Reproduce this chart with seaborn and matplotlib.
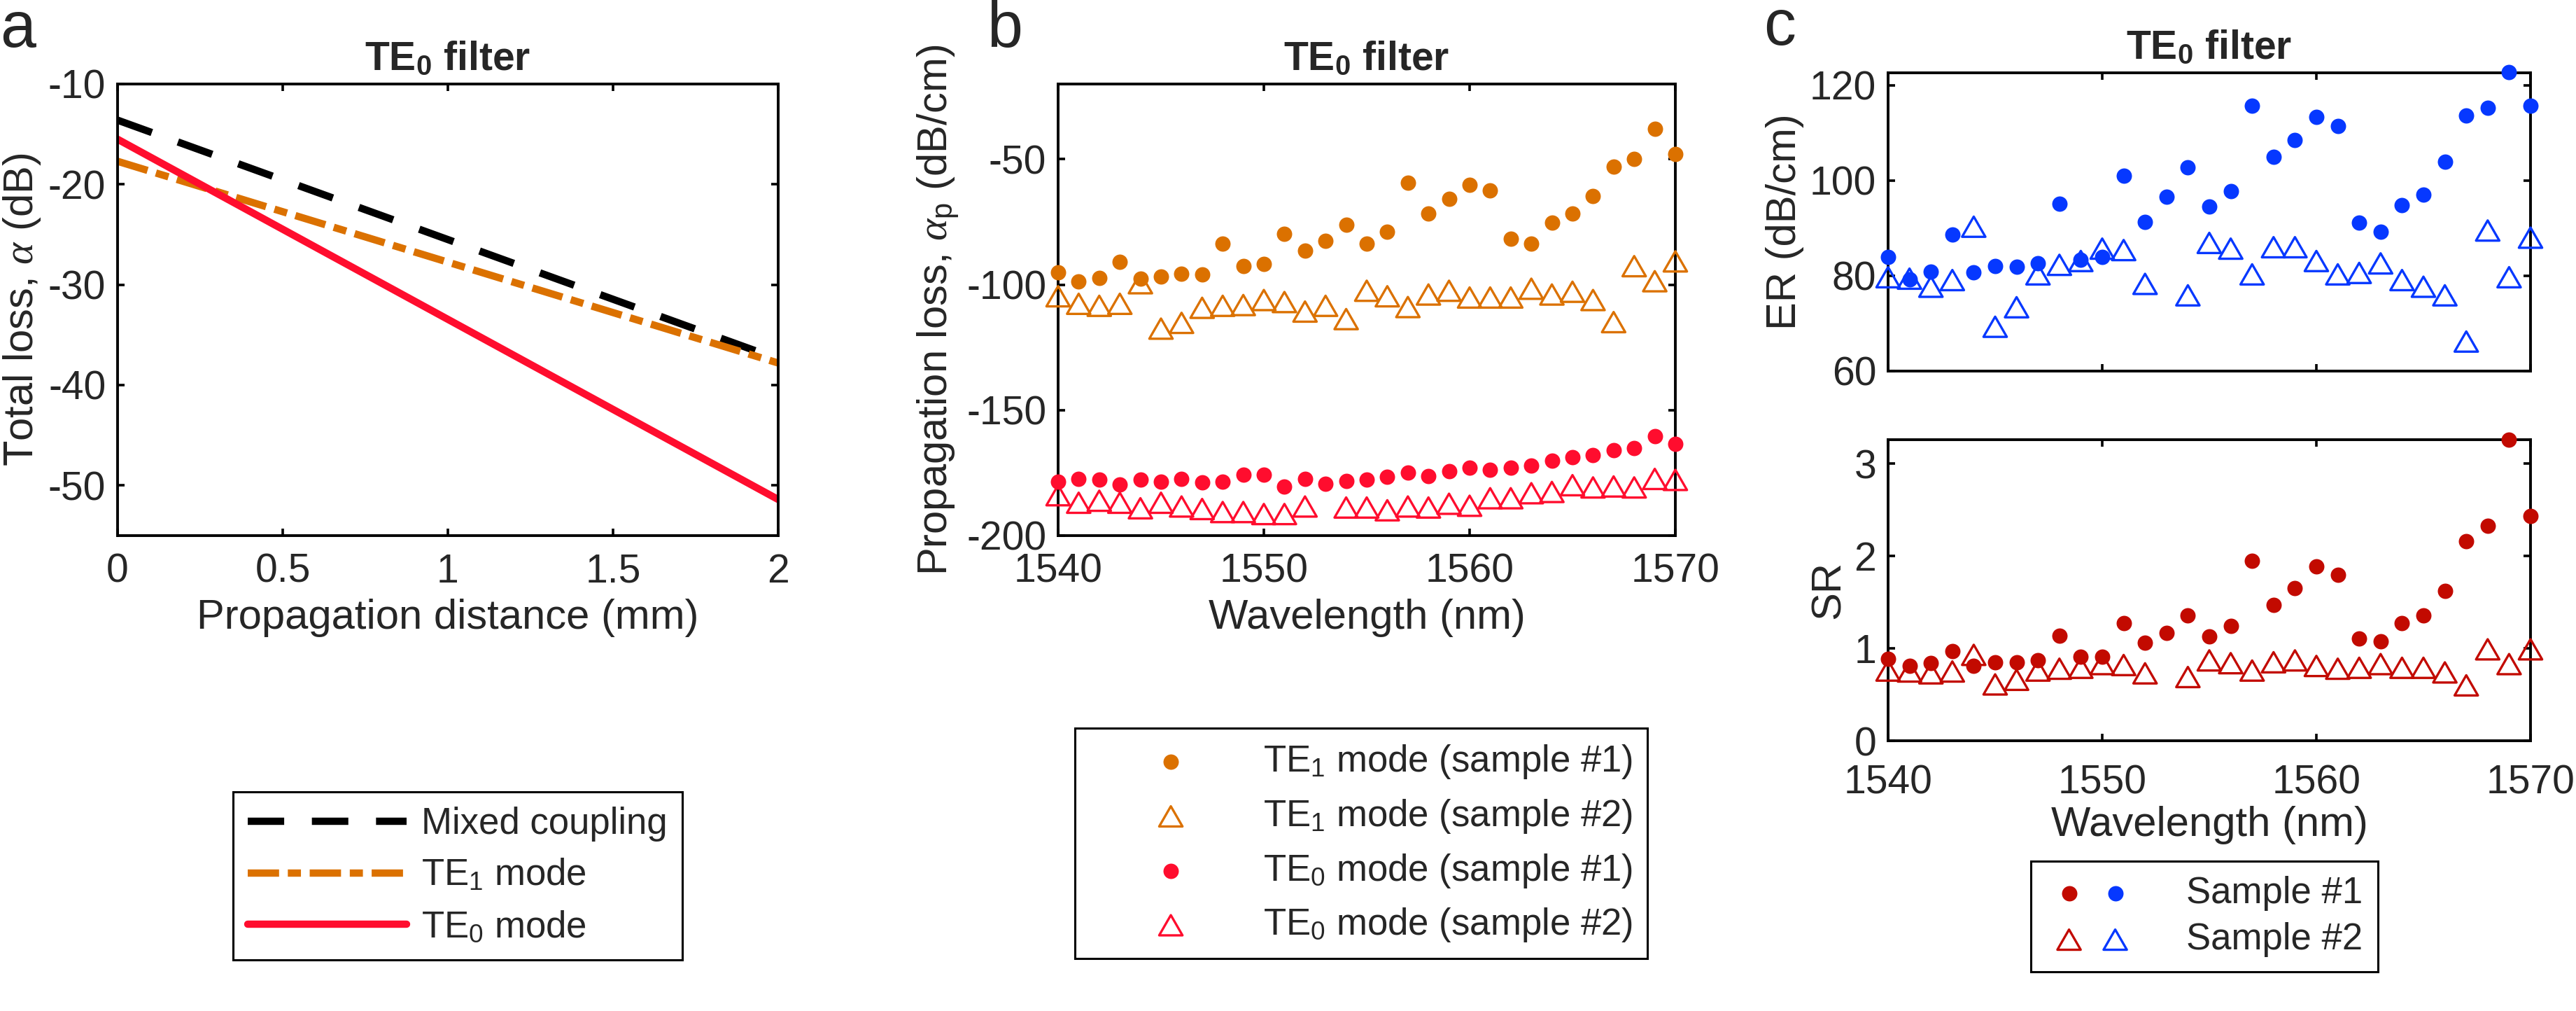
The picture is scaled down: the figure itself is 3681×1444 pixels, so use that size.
import matplotlib
matplotlib.use('Agg')
import numpy as np
import matplotlib.pyplot as plt
from matplotlib.path import Path
from matplotlib.ticker import FuncFormatter
from matplotlib.legend_handler import HandlerTuple
import seaborn as sns

sns.set_theme(style='ticks')
plt.rcParams['font.family'] = ['Liberation Sans', 'DejaVu Sans']
plt.rcParams['mathtext.fontset'] = 'custom'
plt.rcParams['mathtext.rm'] = 'Liberation Sans'
plt.rcParams['mathtext.it'] = 'Liberation Serif:italic'
plt.rcParams['mathtext.bf'] = 'Liberation Sans:bold'
plt.rcParams['axes.unicode_minus'] = False

# ── Data ──────────────────────────────────────────────────────────────────────
# panel a: total loss vs propagation distance
distance_mm = [0, 2]
loss_mixed = [-13.6, -37.4]
loss_te1 = [-17.7, -37.8]
loss_te0 = [-15.5, -51.4]

# panels b, c: wavelength sweep
wavelength = [1540, 1541, 1542, 1543, 1544, 1545, 1546, 1547, 1548, 1549,
              1550, 1551, 1552, 1553, 1554, 1555, 1556, 1557, 1558, 1559,
              1560, 1561, 1562, 1563, 1564, 1565, 1566, 1567, 1568, 1569, 1570]

nan = np.nan
prop_te1_s1 = [-95.1, -98.6, -97.4, -91.0, -97.5, -96.8, -95.6, -96.0, -83.5, -92.6,
               -91.8, -79.7, -86.5, -82.6, -76.0, -83.5, -79.0, -59.4, -71.7, -65.9,
               -60.1, -62.4, -81.7, -83.5, -75.2, -71.7, -64.6, -52.9, -49.9, -37.9, -48.0]
prop_te1_s2 = [-104.6, -107.6, -108.4, -107.6, -99.4, -117.5, -115.2, -109.2, -108.4, -108.1,
               -106.1, -106.9, -110.7, -108.4, -113.7, -102.4, -104.6, -108.9, -103.9, -102.4,
               -105.1, -105.1, -105.1, -101.6, -103.9, -102.8, -106.1, -114.9, -92.6, -98.6, -90.7]
prop_te0_s1 = [-178.6, -177.4, -177.8, -179.6, -177.8, -178.6, -177.4, -178.9, -178.6, -175.6,
               -175.6, -180.5, -177.4, -179.3, -178.3, -177.8, -176.6, -174.8, -176.3, -174.3,
               -173.0, -173.7, -172.8, -172.2, -170.0, -168.8, -168.0, -166.0, -165.0, -160.5, -163.5]
prop_te0_s2 = [-183.9, -186.9, -186.1, -186.9, -189.1, -186.9, -188.4, -189.4, -190.6, -190.6,
               -191.4, -191.4, -188.4, nan, -188.8, -188.8, -189.9, -188.4, -188.8, -187.3,
               -188.1, -185.1, -185.1, -183.1, -182.6, -179.9, -180.8, -180.4, -180.8, -177.4, -177.8]

er_s1 = [83.9, 79.2, 80.8, 88.7, 80.7, 82.1, 81.9, 82.7, 95.1, 83.3,
         83.9, 101.0, 91.3, 96.6, 102.7, 94.5, 97.7, 115.7, 105.0, 108.5,
         113.3, 111.5, 91.2, 89.2, 94.9, 97.0, 103.9, 113.7, 115.3, 122.8, 115.7]
er_s2 = [79.7, 79.4, 77.7, 79.1, 90.3, 69.3, 73.4, 80.3, 82.3, 83.1,
         85.7, 85.4, 78.3, nan, 75.9, 86.9, 85.7, 80.3, 86.0, 86.0,
         83.1, 80.3, 80.6, 82.6, 79.1, 77.7, 75.9, 66.2, 89.5, 79.7, 88.0]
sr_s1 = [0.89, 0.81, 0.84, 0.97, 0.81, 0.85, 0.85, 0.87, 1.14, 0.91,
         0.91, 1.27, 1.06, 1.17, 1.36, 1.13, 1.24, 1.95, 1.47, 1.65,
         1.89, 1.80, 1.11, 1.08, 1.27, 1.36, 1.62, 2.16, 2.33, 3.26, 2.43]
sr_s2 = [0.76, 0.75, 0.73, 0.75, 0.93, 0.61, 0.66, 0.76, 0.78, 0.79,
         0.83, 0.82, 0.73, nan, 0.69, 0.87, 0.84, 0.76, 0.85, 0.87,
         0.81, 0.78, 0.79, 0.83, 0.79, 0.79, 0.74, 0.60, 0.99, 0.83, 0.99]

# ── Style ─────────────────────────────────────────────────────────────────────
ORANGE = '#DB7100'
RED = '#FF0D2E'
DKRED = '#C20A00'
BLUE = '#0638FF'

TICK_FS = 41
LABEL_FS = 43
TITLE_FS = 41
LEG_FS = 38
LETTER_FS = 66

# equilateral open triangle like MATLAB '^'
TRI = Path([(0, 0.5), (-0.577, -0.5), (0.577, -0.5), (0, 0.5)],
           [Path.MOVETO, Path.LINETO, Path.LINETO, Path.CLOSEPOLY])

W, H = 3681, 1444
fig = plt.figure(figsize=(W / 100, H / 100), dpi=100)


def rect(l, r, t, b):
    return [l / W, 1 - b / H, (r - l) / W, (b - t) / H]


ax_a = fig.add_axes(rect(168, 1112, 120, 765))
ax_b = fig.add_axes(rect(1512, 2394, 120, 765))
ax_er = fig.add_axes(rect(2698, 3616, 104, 530))
ax_sr = fig.add_axes(rect(2698, 3616, 628, 1058))

fmt = FuncFormatter(lambda v, p: '%g' % v)


def style_axes(ax):
    for s in ax.spines.values():
        s.set_linewidth(2.8)
        s.set_color('black')
    ax.tick_params(direction='in', top=True, right=True, length=7.5, width=2.6,
                   labelsize=TICK_FS, color='black')
    ax.tick_params(axis='x', pad=18)
    ax.tick_params(axis='y', pad=12)
    ax.xaxis.set_major_formatter(fmt)
    ax.yaxis.set_major_formatter(fmt)
    ax.grid(False)


def dots(ax, y, c, label):
    sns.scatterplot(x=wavelength, y=y, ax=ax, color=c, marker='o', s=250,
                    edgecolor=c, linewidth=0, label=label, legend=False,
                    clip_on=False, zorder=3)


def tris(ax, y, c, label):
    sns.scatterplot(x=wavelength, y=y, ax=ax, color=c, marker=TRI, s=576,
                    facecolor='none', edgecolor=c, linewidth=2.4, label=label,
                    legend=False, clip_on=False, zorder=3)


def title(ax):
    ax.set_title(r'TE$_\mathbf{0}$ filter', fontsize=TITLE_FS, fontweight='bold', pad=14)


# ── Panel a ───────────────────────────────────────────────────────────────────
sns.lineplot(x=distance_mm, y=loss_mixed, ax=ax_a, color='black', linewidth=7.5,
             linestyle=(0, (5, 3.8)), label='Mixed coupling', legend=False)
sns.lineplot(x=distance_mm, y=loss_te1, ax=ax_a, color=ORANGE, linewidth=7.5,
             linestyle=(0, (4.3, 1.2, 1.8, 1.2)), label='TE$_1$ mode', legend=False)
sns.lineplot(x=distance_mm, y=loss_te0, ax=ax_a, color=RED, linewidth=7.5,
             linestyle='-', label='TE$_0$ mode', legend=False)
ax_a.set_xlim(0, 2)
ax_a.set_ylim(-55, -10)
ax_a.set_xticks([0, 0.5, 1, 1.5, 2])
ax_a.set_yticks([-50, -40, -30, -20, -10])
style_axes(ax_a)
ax_a.set_xlabel('Propagation distance (mm)', fontsize=LABEL_FS, labelpad=8)
ax_a.set_ylabel(r'Total loss, $\alpha$ (dB)', fontsize=LABEL_FS, labelpad=6)
title(ax_a)

# ── Panel b ───────────────────────────────────────────────────────────────────
dots(ax_b, prop_te1_s1, ORANGE, 'TE$_1$ mode (sample #1)')
tris(ax_b, prop_te1_s2, ORANGE, 'TE$_1$ mode (sample #2)')
dots(ax_b, prop_te0_s1, RED, 'TE$_0$ mode (sample #1)')
tris(ax_b, prop_te0_s2, RED, 'TE$_0$ mode (sample #2)')
ax_b.set_xlim(1540, 1570)
ax_b.set_ylim(-200, -20)
ax_b.set_xticks([1540, 1550, 1560, 1570])
ax_b.set_yticks([-200, -150, -100, -50])
style_axes(ax_b)
ax_b.set_xlabel('Wavelength (nm)', fontsize=LABEL_FS, labelpad=8)
ax_b.set_ylabel(r'Propagation loss, $\alpha_\mathrm{p}$ (dB/cm)', fontsize=LABEL_FS, labelpad=6)
title(ax_b)

# ── Panel c ───────────────────────────────────────────────────────────────────
dots(ax_er, er_s1, BLUE, 'Sample #1')
tris(ax_er, er_s2, BLUE, 'Sample #2')
ax_er.set_xlim(1540, 1570)
ax_er.set_ylim(60, 122.6)
ax_er.set_xticks([1540, 1550, 1560, 1570])
ax_er.set_yticks([60, 80, 100, 120])
style_axes(ax_er)
ax_er.tick_params(labelbottom=False)
ax_er.set_ylabel('ER (dB/cm)', fontsize=LABEL_FS, labelpad=6)
title(ax_er)

dots(ax_sr, sr_s1, DKRED, 'Sample #1')
tris(ax_sr, sr_s2, DKRED, 'Sample #2')
ax_sr.set_xlim(1540, 1570)
ax_sr.set_ylim(0, 3.26)
ax_sr.set_xticks([1540, 1550, 1560, 1570])
ax_sr.set_yticks([0, 1, 2, 3])
style_axes(ax_sr)
# a little more room so "0" and "1540" do not collide
ax_sr.tick_params(axis='x', pad=24)
ax_sr.set_xlabel('Wavelength (nm)', fontsize=LABEL_FS, labelpad=4)
ax_sr.set_ylabel('SR', fontsize=LABEL_FS, labelpad=6)

# ── Legends ───────────────────────────────────────────────────────────────────
leg_kw = dict(loc='upper center', bbox_transform=fig.transFigure, fontsize=LEG_FS,
              frameon=True, fancybox=False, framealpha=1, edgecolor='black',
              borderaxespad=0, borderpad=0.4)

h, l = ax_a.get_legend_handles_labels()
leg = ax_a.legend(h, l, bbox_to_anchor=(654 / W, 1 - 1131 / H), handlelength=4.3,
                  handletextpad=0.4, labelspacing=0.45, **leg_kw)
leg.get_frame().set_linewidth(2.2)

h, l = ax_b.get_legend_handles_labels()
leg = ax_b.legend(h, l, bbox_to_anchor=(1945 / W, 1 - 1040 / H), handlelength=4.4,
                  handletextpad=0.3, labelspacing=0.45, **leg_kw)
leg.get_frame().set_linewidth(2.2)

h_sr, _ = ax_sr.get_legend_handles_labels()
h_er, _ = ax_er.get_legend_handles_labels()
leg = ax_sr.legend([(h_sr[0], h_er[0]), (h_sr[1], h_er[1])], ['Sample #1', 'Sample #2'],
                   bbox_to_anchor=(3150 / W, 1 - 1230 / H), handlelength=2.5,
                   handletextpad=1.3, labelspacing=0.3,
                   handler_map={tuple: HandlerTuple(ndivide=None, pad=0)}, **leg_kw)
leg.get_frame().set_linewidth(2.2)

# ── Panel letters ─────────────────────────────────────────────────────────────
fig.text(0 / W, 1 - 67 / H, 'a', fontsize=LETTER_FS, va='baseline', ha='left')
fig.text(1410 / W, 1 - 67 / H, 'b', fontsize=LETTER_FS, va='baseline', ha='left')
fig.text(2520 / W, 1 - 64 / H, 'c', fontsize=LETTER_FS, va='baseline', ha='left')

fig.savefig('out.png', dpi=100)
